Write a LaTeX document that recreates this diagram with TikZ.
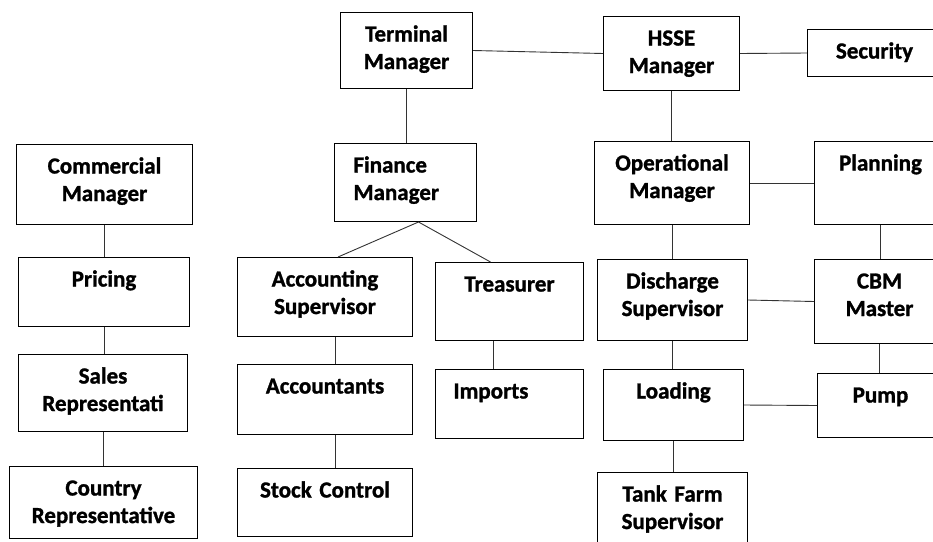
\documentclass[tikz,border=0pt]{standalone}
\usepackage{fontspec}
\setmainfont{Carlito}[BoldFeatures={FakeBold=1.2}]
\begin{document}
\begin{tikzpicture}[x=1pt,y=-1pt,
  post/.style={draw,line width=1pt,anchor=north west,inner xsep=0pt,inner ysep=0pt,
    align=center,text height=29pt,font=\fontsize{23}{27.5}\selectfont\bfseries},
  link/.style={line width=0.9pt,black!80}]
 \useasboundingbox (0,0) rectangle (933,541);
 \fill[white] (0,0) rectangle (933,541);
 \clip (0,0) rectangle (933,541);
 % commercial column
 \node[post,text width=176pt,text depth=51pt] (com) at (16,144) {Commercial\\Manager};
 \node[post,text width=171pt,text depth=40pt] (pri) at (18,257) {Pricing};
 \node[post,text width=169pt,text depth=48pt] (sal) at (18,354) {Sales\\Representati};
 \node[post,text width=188pt,text depth=43pt] (cou) at (9,466) {Country\\Representative};
 % finance column
 \node[post,text width=132pt,text depth=47pt] (term) at (340,12) {Terminal\\Manager};
 \node[post,align=left,inner xsep=19pt,text width=104pt,text depth=49pt] (fin) at (334,143) {Finance\\Manager};
 \node[post,text width=175pt,text depth=50pt] (acc) at (237,257) {Accounting\\Supervisor};
 \node[post,text width=175pt,text depth=41pt] (acct) at (237,364) {Accountants};
 \node[post,text width=175pt,text depth=39pt] (stock) at (237,468) {Stock Control};
 \node[post,text width=148pt,text depth=49pt] (tre) at (435,262) {Treasurer};
 \node[post,align=left,inner xsep=18pt,text width=112pt,text depth=40pt] (imp) at (435,369) {Imports};
 % operations
 \node[post,text width=136pt,text depth=45pt] (hsse) at (603,16) {HSSE\\Manager};
 \node[post,text width=134pt,text depth=18pt] (sec) at (807,29) {Security};
 \node[post,text width=155pt,text depth=54pt] (op) at (594,141) {Operational\\Manager};
 \node[post,text width=132pt,text depth=54pt] (plan) at (814,141) {Planning};
 \node[post,text width=150pt,text depth=52pt] (dis) at (597,259) {Discharge\\Supervisor};
 \node[post,text width=130pt,text depth=55pt] (cbm) at (814,259) {CBM\\Master};
 \node[post,text width=140pt,text depth=42pt] (load) at (603,369) {Loading};
 \node[post,text width=126pt,text depth=35pt] (pump) at (817,373) {Pump};
 \node[post,text width=150pt,text depth=51pt] (tank) at (597,472) {Tank Farm\\Supervisor};
 % connectors
 \coordinate (finjoin) at ([xshift=13pt]fin.south);
 \draw[link] (com.south) -- (com.south |- pri.north);
 \draw[link] (pri.south) -- (pri.south |- sal.north);
 \draw[link] (sal.south) -- (sal.south |- cou.north);
 \draw[link] (term.south) -- (term.south |- fin.north);
 \draw[link] (term.east) -- (hsse.west);
 \draw[link] (hsse.east) -- (sec.west);
 \draw[link] (finjoin) -- ([xshift=13pt]acc.north);
 \draw[link] (finjoin) -- ([xshift=-19pt]tre.north);
 \draw[link] ([xshift=10pt]acc.south) -- ([xshift=10pt]acct.north);
 \draw[link] ([xshift=10pt]acct.south) -- ([xshift=10pt]stock.north);
 \draw[link] ([xshift=-16pt]tre.south) -- ([xshift=-16pt]imp.north);
 \draw[link] (hsse.south) -- (hsse.south |- op.north);
 \draw[link] (op.east) -- (plan.west);
 \draw[link] (op.south) -- (op.south |- dis.north);
 \draw[link] (plan.south) -- (plan.south |- cbm.north);
 \draw[link] (dis.east) -- (cbm.west);
 \draw[link] (dis.south) -- (dis.south |- load.north);
 \draw[link] (cbm.south) -- (cbm.south |- pump.north);
 \draw[link] (load.east) -- (pump.west);
 \draw[link] (load.south) -- (load.south |- tank.north);
\end{tikzpicture}
\end{document}
